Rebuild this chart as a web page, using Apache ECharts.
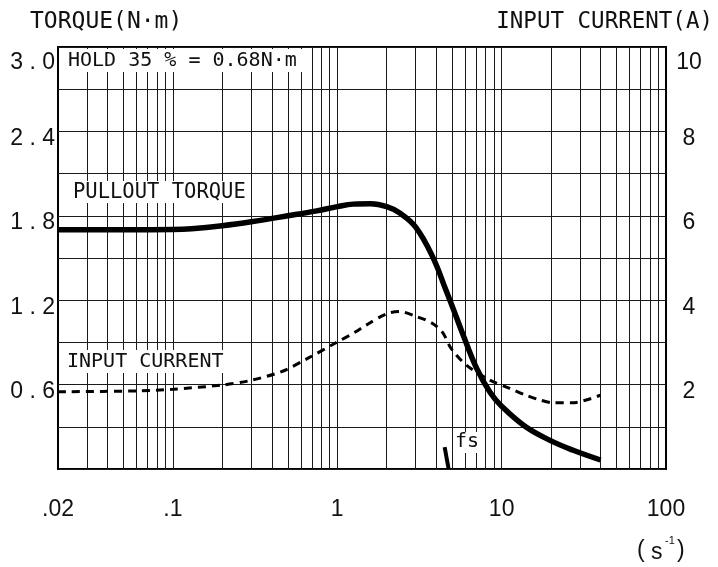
<!DOCTYPE html>
<html><head><meta charset="utf-8">
<script src="https://cdn.jsdelivr.net/npm/echarts@6/dist/echarts.min.js"></script>
<style>html,body{margin:0;padding:0;background:#fff}#c{width:718px;height:567px}</style>
</head><body><div id="c"></div>
<script>
// ---- data ----
const xTickValues = [0.02, 0.1, 1, 10, 100];
const xTickLabels = ['.02', '.1', '1', '10', '100'];
const xGridLines = [0.03,0.04,0.05,0.06,0.07,0.08,0.09,0.1,
  0.2,0.3,0.4,0.5,0.6,0.7,0.8,0.9,1,
  2,3,4,5,6,7,8,9,10,
  20,30,40,50,60,70,80,90];
const torqueTicks = [0.6, 1.2, 1.8, 2.4, 3.0];
const currentTicks = [2, 4, 6, 8, 10];

const torqueFreq = [0.02,0.05,0.1,0.13,0.2,0.3,0.5,0.75,1.0,1.25,1.6,2.0,2.4,3.0,3.8,4.6,5.1,5.8,7.0,8.5,10,14,20,27,40];
const torqueVal  = [1.70,1.70,1.702,1.708,1.73,1.758,1.80,1.835,1.865,1.883,1.885,1.865,1.82,1.72,1.51,1.267,1.132,0.96,0.723,0.545,0.446,0.30,0.20,0.135,0.064];

const currentFreq = [0.02,0.06,0.1,0.2,0.29,0.46,0.66,0.97,1.28,1.5,2.0,2.4,3.0,3.8,4.4,4.94,6.1,8.45,11.2,14,17,20.5,27,40];
const currentVal  = [1.83,1.85,1.89,1.99,2.09,2.31,2.62,2.98,3.24,3.41,3.68,3.73,3.62,3.45,3.22,2.85,2.46,2.11,1.91,1.75,1.64,1.57,1.57,1.75];

const fsFreq = [4.5, 4.76];
const fsVal  = [0.155, 0];

// ---- chart ----
const zip = (a, b) => a.map((v, i) => [v, b[i]]);
const SANS = '"Liberation Sans", Arial, sans-serif';
const MONO = '"DejaVu Sans Mono", "Liberation Mono", monospace';
const INK = '#111';

function near(list, v, tol) { return list.findIndex(t => Math.abs(t - v) < tol); }

const chart = echarts.init(document.getElementById('c'), null, {renderer: 'canvas'});
chart.setOption({
  animation: false,
  backgroundColor: '#fff',
  grid: {left: 58, right: 52, top: 47, bottom: 98, show: true, borderColor: '#000', borderWidth: 2, backgroundColor: 'transparent', outerBoundsMode: 'none'},
  xAxis: {
    type: 'log', logBase: 10, min: 0.02, max: 100,
    axisLine: {show: false}, axisTick: {show: false}, splitLine: {show: false},
    axisLabel: {
      margin: 29, fontFamily: SANS, fontSize: 23, color: INK,
      formatter: v => { const i = xTickValues.findIndex(t => Math.abs(Math.log10(t) - Math.log10(v)) < 0.01); return i < 0 ? '' : xTickLabels[i]; }
    }
  },
  yAxis: [{
    type: 'value', min: 0, max: 3, interval: 0.3, position: 'left',
    axisLine: {show: false}, axisTick: {show: false},
    splitLine: {show: true, lineStyle: {color: '#1a1a1a', width: 1}},
    axisLabel: {
      margin: 3, fontFamily: SANS, fontSize: 23, color: INK, padding: [14, 0, 0, 0],
      rich: {t: {fontFamily: SANS, fontSize: 23, color: INK, padding: [18, 0, 0, 0]}},
      formatter: v => {
        const i = near(torqueTicks, v, 0.01);
        if (i < 0) return '';
        const s = torqueTicks[i].toFixed(1).split('').join(' ');
        return i === torqueTicks.length - 1 ? '{t|' + s + '}' : s;
      }
    }
  }, {
    type: 'value', min: 0, max: 10, interval: 2, position: 'right',
    axisLine: {show: false}, axisTick: {show: false}, splitLine: {show: false},
    axisLabel: {
      margin: 23, align: 'center', fontFamily: SANS, fontSize: 23, color: INK, padding: [14, 0, 0, 0],
      rich: {t: {fontFamily: SANS, fontSize: 23, color: INK, padding: [18, 0, 0, 0]}},
      formatter: v => {
        const i = near(currentTicks, v, 0.01);
        if (i < 0) return '';
        const s = String(currentTicks[i]);
        return i === currentTicks.length - 1 ? '{t|' + s + '}' : s;
      }
    }
  }],
  series: [{
    name: 'grid', type: 'line', data: [[0.02, 0], [100, 0]], symbol: 'none', silent: true,
    lineStyle: {opacity: 0}, z: 1,
    markLine: {
      silent: true, symbol: ['none', 'none'], label: {show: false}, animation: false,
      lineStyle: {color: '#1a1a1a', width: 1, type: 'solid'},
      emphasis: {disabled: true},
      data: xGridLines.map(v => ({xAxis: v}))
    }
  }, {
    name: 'PULLOUT TORQUE', type: 'line', yAxisIndex: 0, data: zip(torqueFreq, torqueVal),
    symbol: 'none', smooth: 0.4, lineStyle: {color: '#000', width: 5.5}, z: 5
  }, {
    name: 'INPUT CURRENT', type: 'line', yAxisIndex: 1, data: zip(currentFreq, currentVal),
    symbol: 'none', smooth: 0.3, lineStyle: {color: '#000', width: 3, type: [8, 6]}, z: 5
  }, {
    name: 'fs', type: 'line', yAxisIndex: 0, data: zip(fsFreq, fsVal),
    symbol: 'none', lineStyle: {color: '#000', width: 4}, z: 5
  }],
  graphic: [
    {type: 'text', x: 30, y: 22, z: 60, style: {text: 'TORQUE(N·m)', font: '23px ' + MONO, fill: INK, textVerticalAlign: 'middle', verticalAlign: 'middle'}},
    {type: 'text', x: 713, y: 22, z: 60, style: {text: 'INPUT CURRENT(A)', font: '22.5px ' + MONO, fill: INK, textAlign: 'right', align: 'right', textVerticalAlign: 'middle', verticalAlign: 'middle'}},
    {type: 'rect', z: 50, shape: {x: 59, y: 49, width: 249, height: 23}, style: {fill: '#fff'}},
    {type: 'text', x: 68, y: 61, z: 60, style: {text: 'HOLD 35 % = 0.68N·m', font: '20px ' + MONO, fill: INK, textVerticalAlign: 'middle', verticalAlign: 'middle'}},
    {type: 'rect', z: 50, shape: {x: 59, y: 181, width: 189, height: 22}, style: {fill: '#fff'}},
    {type: 'text', x: 73, y: 193, z: 60, style: {text: 'PULLOUT TORQUE', font: '20.5px ' + MONO, fill: INK, textVerticalAlign: 'middle', verticalAlign: 'middle'}},
    {type: 'rect', z: 50, shape: {x: 59, y: 350, width: 167, height: 23}, style: {fill: '#fff'}},
    {type: 'text', x: 67, y: 362, z: 60, style: {text: 'INPUT CURRENT', font: '20px ' + MONO, fill: INK, textVerticalAlign: 'middle', verticalAlign: 'middle'}},
    {type: 'rect', z: 50, shape: {x: 455, y: 432, width: 25, height: 21}, style: {fill: '#fff'}},
    {type: 'text', x: 455, y: 442, z: 60, style: {text: 'fs', font: '20px ' + MONO, fill: INK, textVerticalAlign: 'middle', verticalAlign: 'middle'}},
    {type: 'text', x: 637, y: 551, z: 60, style: {text: '(', font: '23px ' + SANS, fill: INK, textVerticalAlign: 'middle', verticalAlign: 'middle'}},
    {type: 'text', x: 651, y: 553, z: 60, style: {text: 's', font: '23px ' + SANS, fill: INK, textVerticalAlign: 'middle', verticalAlign: 'middle'}},
    {type: 'text', x: 665, y: 541, z: 60, style: {text: '-1', font: '11px ' + SANS, fill: INK, textVerticalAlign: 'middle', verticalAlign: 'middle'}},
    {type: 'text', x: 677, y: 551, z: 60, style: {text: ')', font: '23px ' + SANS, fill: INK, textVerticalAlign: 'middle', verticalAlign: 'middle'}}
  ]
});
</script></body></html>
